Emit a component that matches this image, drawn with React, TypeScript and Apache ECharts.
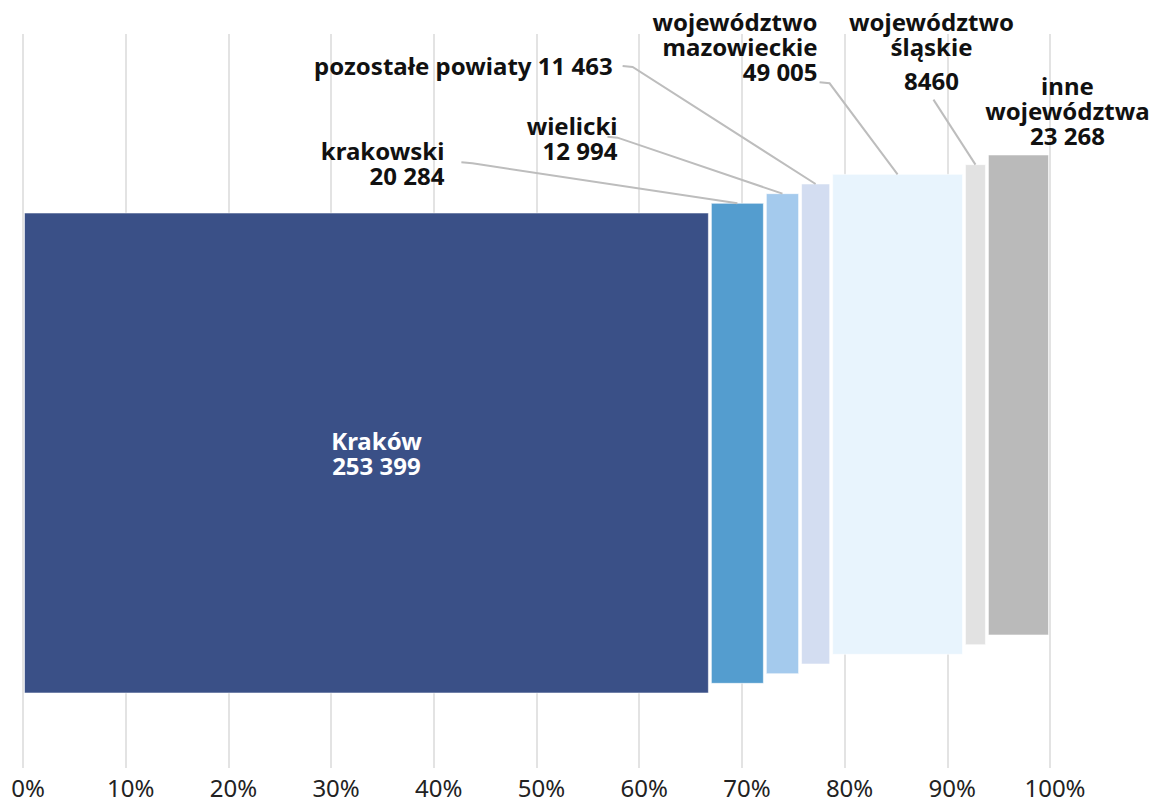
import React, { useEffect, useRef } from "react";
import * as echarts from "echarts";

const categories = [
  "Kraków",
  "krakowski",
  "wielicki",
  "pozostałe powiaty",
  "województwo mazowieckie",
  "województwo śląskie",
  "inne województwa",
];
const values = [253399, 20284, 12994, 11463, 49005, 8460, 23268];
const colors = ["#3a5087", "#549dcf", "#a4caed", "#d3ddf1", "#e8f4fd", "#e2e2e2", "#bababa"];
const tickValues = [0, 10, 20, 30, 40, 50, 60, 70, 80, 90, 100];

// label layout (styling): offsets relative to the top-centre of each bar
const labelLayout: any[] = [
  { inside: true, dx: 10, align: "center" },
  { dx: -293, dy: -40, align: "right", line: [[-265, -40], [-276, -41]] },
  { dx: -165, dy: -56, align: "right", line: [[-165, -56], [-175, -57]] },
  { dx: -203, dy: -118, align: "right", oneLine: true, line: [[-183, -117], [-193, -118]] },
  { dx: -80, dy: -128, align: "right", line: [[-68, -91], [-78, -92]] },
  { dx: -44, dy: -109, align: "center", valueLH: 44, line: [[-42, -65]] },
  { dx: 49, dy: -44, align: "center", line: null },
];
const nameLines = [
  ["Kraków"],
  ["krakowski"],
  ["wielicki"],
  ["pozostałe powiaty"],
  ["województwo", "mazowieckie"],
  ["województwo", "śląskie"],
  ["inne", "województwa"],
];

const FONT = "'Noto Sans', 'Open Sans', sans-serif";
const BASE = 75;
const HEIGHT = 480;
const STEP = 9.67;

function fmt(n: number): string {
  if (n < 10000) return String(n);
  const s = String(n);
  return s.replace(/\B(?=(\d{3})+(?!\d))/g, " ");
}

export default function App() {
  const ref = useRef<HTMLDivElement>(null);
  useEffect(() => {
    if (!ref.current) return;
    const chart = echarts.init(ref.current, null, { renderer: "svg" });
    const total = values.reduce((a, b) => a + b, 0);
    const starts: number[] = [];
    const ends: number[] = [];
    let acc = 0;
    values.forEach((v) => {
      starts.push((acc / total) * 100);
      acc += v;
      ends.push((acc / total) * 100);
    });
    const data = categories.map((c, i) => [starts[i], ends[i], i, values[i]]);

    const renderItem = (params: any, api: any) => {
      const i = api.value(2);
      const lo = api.coord([api.value(0), BASE + i * STEP]);
      const hi = api.coord([api.value(1), BASE + HEIGHT + i * STEP]);
      const x0 = lo[0] + 1.5;
      const x1 = hi[0] - 1.5;
      const yTop = hi[1];
      const yBot = lo[1];
      const cx = (lo[0] + hi[0]) / 2;
      const L = labelLayout[i];
      const children: any[] = [
        {
          type: "rect",
          shape: { x: x0, y: yTop, width: x1 - x0, height: yBot - yTop },
          style: { fill: colors[i], stroke: "rgba(255,255,255,0.55)", lineWidth: 1 },
        },
      ];
      const valStr = fmt(values[i]);
      let text: string;
      if (L.oneLine) {
        text = `{n|${nameLines[i].join(" ")} ${valStr}}`;
      } else {
        text = nameLines[i].map((l: string) => `{n|${l}}`).join("\n") + `\n{v|${valStr}}`;
      }
      const fill = L.inside ? "#ffffff" : "#111111";
      const rich = {
        n: { fontFamily: FONT, fontWeight: "bold", fontSize: 24, lineHeight: 25, fill, align: L.align },
        v: { fontFamily: FONT, fontWeight: "bold", fontSize: 24, lineHeight: L.valueLH || 25, fill, align: L.align },
      };
      if (L.inside) {
        children.push({
          type: "text",
          x: cx + L.dx,
          y: (yTop + yBot) / 2,
          style: { text, rich, align: "center", verticalAlign: "middle" },
        });
      } else {
        children.push({
          type: "text",
          x: cx + L.dx,
          y: yTop + L.dy,
          style: { text, rich, align: L.align, verticalAlign: "middle" },
        });
        if (L.line) {
          const pts = [[cx, yTop], ...L.line.map((p: number[]) => [cx + p[0], yTop + p[1]])];
          children.push({
            type: "polyline",
            shape: { points: pts },
            style: { stroke: "#bdbdbd", lineWidth: 2, fill: "none" },
          });
        }
      }
      return { type: "group", children };
    };

    chart.setOption({
      animation: false,
      grid: { left: 23, right: 114, top: 34, bottom: 32, outerBoundsMode: "none", containLabel: false },
      xAxis: {
        type: "value",
        min: 0,
        max: 100,
        interval: 10,
        axisLine: { show: false },
        axisTick: { show: false },
        splitLine: { show: true, lineStyle: { color: "#e3e3e3", width: 2 } },
        axisLabel: {
          formatter: (v: number) => (tickValues.includes(v) ? `${v}%` : ""),
          fontFamily: FONT,
          fontSize: 24,
          lineHeight: 22,
          color: "#222",
          margin: 8,
          padding: [0, 0, 0, 10],
        },
      },
      yAxis: { type: "value", min: 0, max: 734, show: false },
      series: [
        {
          type: "custom",
          renderItem,
          clip: false,
          data,
        },
      ],
    });
    return () => chart.dispose();
  }, []);
  return (
    <div
      ref={ref}
      style={{ position: "absolute", left: 0, top: 0, width: 1164, height: 800 }}
    />
  );
}
